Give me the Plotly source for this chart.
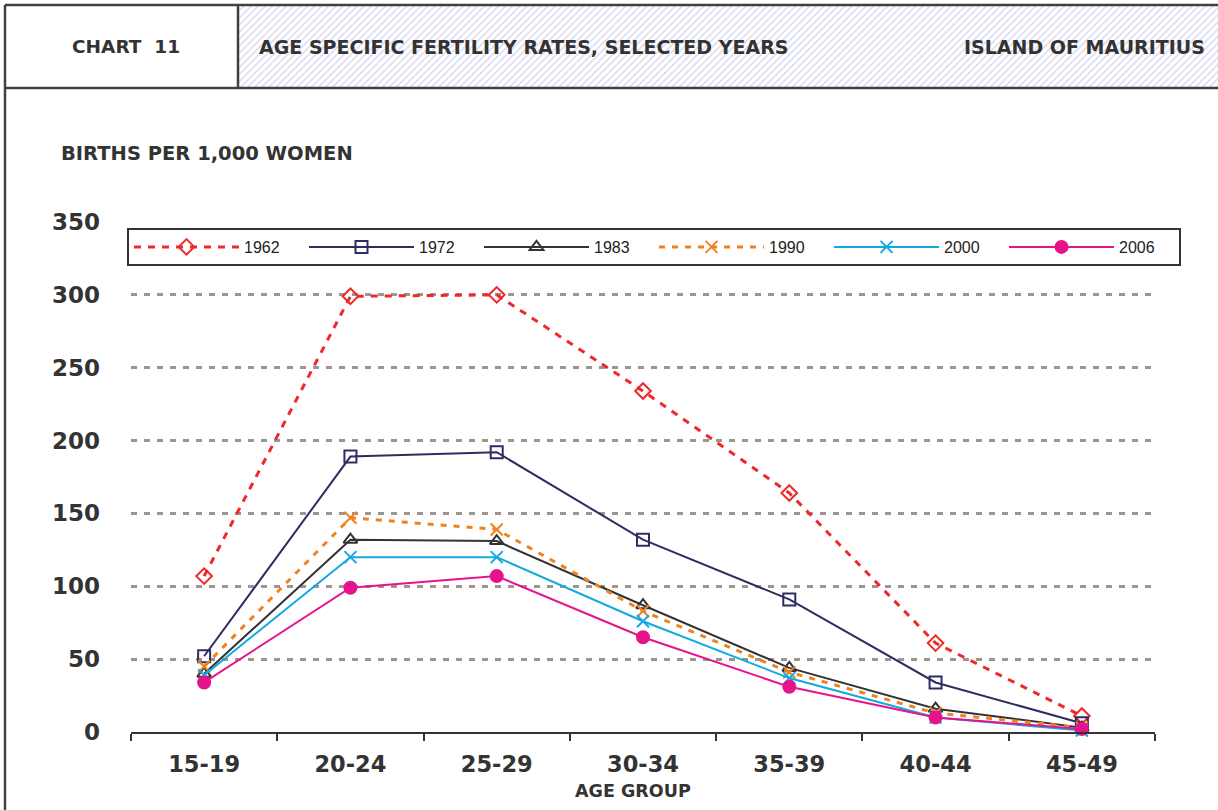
import plotly.graph_objects as go

W, H = 1218, 810

age_groups = ["15-19", "20-24", "25-29", "30-34", "35-39", "40-44", "45-49"]
y1962 = [107, 299, 300, 234, 164, 61, 11]
y1972 = [52, 189, 192, 132, 91, 34, 6]
y1983 = [40, 132, 131, 87, 44, 16, 3]
y1990 = [45, 147, 139, 83, 41, 13, 3]
y2000 = [39, 120, 120, 76, 37, 10, 1]
y2006 = [34, 99, 107, 65, 31, 10, 2]
y_ticks = [0, 50, 100, 150, 200, 250, 300, 350]

def px(x):
    return x / W

def py(y):
    return 1 - y / H

fig = go.Figure()

series = [
    ("1962", y1962, "#f02828", "7px,7px", 3, "diamond-open", 12),
    ("1972", y1972, "#2e2d62", "solid", 2, "square-open", 12),
    ("1983", y1983, "#333333", "solid", 2, "triangle-up-open", 12),
    ("1990", y1990, "#f0821e", "6px,7px", 3, "x-thin-open", 12),
    ("2000", y2000, "#12a9e3", "solid", 2, "x-thin-open", 12),
    ("2006", y2006, "#e6138c", "solid", 2, "circle", 12),
]
for name, ys, col, dash, lw, sym, ms in series:
    fig.add_trace(go.Scatter(
        x=age_groups, y=ys, name=name, mode="lines+markers",
        line=dict(color=col, width=lw, dash=dash),
        marker=dict(symbol=sym, size=ms, color=col,
                    line=dict(color=col, width=2)),
        cliponaxis=False,
    ))

# hatched header band
fig.add_trace(go.Bar(
    x=[0], y=[1], width=[1], xaxis="x2", yaxis="y2", showlegend=False,
    hoverinfo="skip",
    marker=dict(color="white", line=dict(width=0),
                pattern=dict(shape="/", fgcolor="#b4b4de", bgcolor="white",
                             size=5, solidity=0.3)),
))

shapes = []
lc = "#404040"
for x0, y0, x1, y1 in [
    (5, 5, 1218, 5),
    (5, 5, 5, 810),
    (5, 88, 1218, 88),
    (238, 5, 238, 88),
]:
    shapes.append(dict(type="line", xref="paper", yref="paper",
                       x0=px(x0), y0=py(y0), x1=px(x1), y1=py(y1),
                       line=dict(color=lc, width=2.5), layer="above"))

tc = "#333333"
fam = "DejaVu Sans"
annotations = [
    dict(text="<b>CHART  11</b>", x=px(126), y=py(47), xanchor="center", yanchor="middle",
         xref="paper", yref="paper", showarrow=False,
         font=dict(family=fam, size=18.5, color=tc)),
    dict(text="<b>AGE SPECIFIC FERTILITY RATES, SELECTED YEARS</b>", x=px(257), y=py(47),
         xref="paper", yref="paper", xanchor="left", yanchor="middle", showarrow=False,
         font=dict(family=fam, size=19, color=tc)),
    dict(text="<b>ISLAND OF MAURITIUS</b>", x=px(1207), y=py(47), xref="paper", yref="paper",
         xanchor="right", yanchor="middle", showarrow=False,
         font=dict(family=fam, size=19, color=tc)),
    dict(text="<b>BIRTHS PER 1,000 WOMEN</b>", x=px(59), y=py(153), xref="paper", yref="paper",
         xanchor="left", yanchor="middle", showarrow=False,
         font=dict(family=fam, size=19.5, color=tc)),
    dict(text="<b>AGE GROUP</b>", x=px(633), y=py(791), xref="paper", yref="paper",
         xanchor="center", yanchor="middle", showarrow=False,
         font=dict(family=fam, size=17.5, color=tc)),
]

fig.update_layout(
    width=W, height=H, margin=dict(l=0, r=0, t=0, b=0, autoexpand=False),
    paper_bgcolor="white", plot_bgcolor="white",
    shapes=shapes, annotations=annotations,
    xaxis=dict(domain=[px(131), px(1155)], type="category", range=[-0.5, 6.5],
               showline=True, linecolor="#333333", linewidth=2,
               ticks="outside", ticklen=7, tickwidth=2, tickcolor="#333333",
               tickson="boundaries", showgrid=False, ticklabelstandoff=11,
               automargin=False,
               tickfont=dict(family=fam, size=22.5, color=tc, weight="bold")),
    yaxis=dict(domain=[py(732), py(222)], range=[0, 350], tickvals=y_ticks,
               showline=False, zeroline=False, ticks="", automargin=False,
               showgrid=True, gridcolor="#9e9590", gridwidth=2.5, griddash="6px,7px",
               ticklabelstandoff=30,
               tickfont=dict(family=fam, size=23, color=tc, weight="bold")),
    xaxis2=dict(domain=[px(238), 1], range=[-0.5, 0.5], visible=False, fixedrange=True),
    yaxis2=dict(domain=[py(88), py(5)], range=[0, 1], visible=False, fixedrange=True),
    legend=dict(orientation="h", x=px(127), y=py(228), xanchor="left", yanchor="top",
                bgcolor="white", bordercolor="#333333", borderwidth=2,
                itemwidth=105, entrywidth=55, entrywidthmode="pixels",
                font=dict(family="Liberation Sans", size=16, color="#222222"),
                traceorder="normal", itemclick=False),
    showlegend=True,
)

fig.write_html("out.html", config={"displayModeBar": False},
               post_script="document.body.style.margin='0';")
